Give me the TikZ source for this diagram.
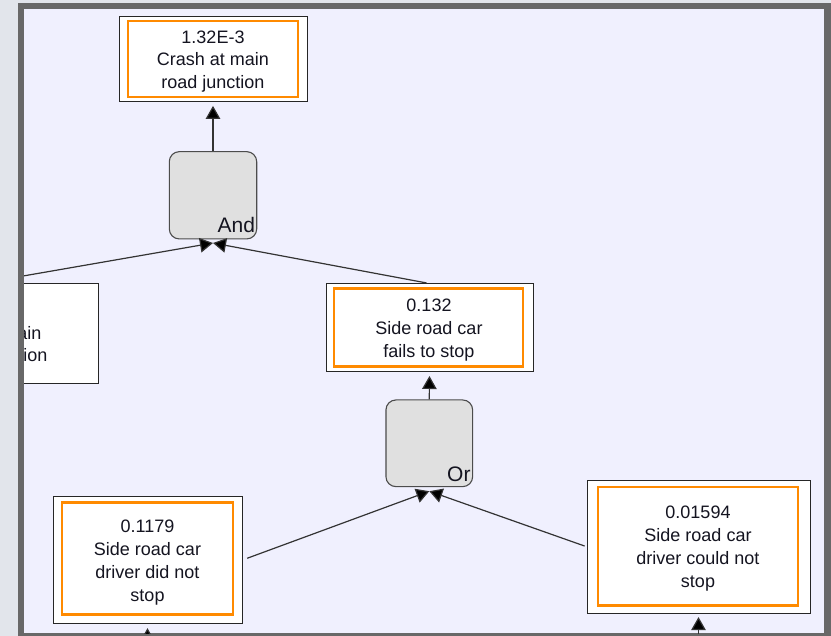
\documentclass[tikz,border=0pt]{standalone}
\usepackage{fontspec}
\setmainfont{Liberation Sans}
\usetikzlibrary{arrows.meta,calc}
\definecolor{lav}{HTML}{F0F0FE}
\definecolor{framegray}{HTML}{686868}
\definecolor{outbg}{HTML}{E2E5EB}
\definecolor{orng}{HTML}{FF8A00}
\definecolor{gatefill}{HTML}{E0E0E0}
\definecolor{txt}{HTML}{141420}
\newcommand\fbxfont{\fontsize{18}{22.9}\selectfont}
\newcommand\fgatefont{\fontsize{21}{24}\selectfont}
\begin{document}
\begin{tikzpicture}[x=1pt,y=-1pt,
  outerbox/.style={draw=black!85, line width=1pt, fill=white, inner sep=0pt, rectangle},
  innerbox/.style={draw=orng, line width=2.6pt, inner sep=0pt, rectangle},
  boxtext/.style={inner sep=0pt, align=center, font=\fbxfont, text=txt},
  gate/.style={draw=black!70, line width=1.1pt, fill=gatefill, rounded corners=10pt, inner sep=0pt},
  gatelabel/.style={anchor=base west, inner sep=0pt, font=\fgatefont, text=txt},
  frag/.style={anchor=base east, inner sep=0pt, font=\fbxfont, text=txt},
  conn/.style={draw=black!80, line width=1.2pt, -{Triangle[length=13pt,width=14.5pt,fill=black]}},
]
\useasboundingbox (0,0) rectangle (831,636);
\fill[outbg] (0,0) rectangle (831,636);
\fill[framegray] (18.3,3.3) rectangle (831,636);
\fill[lav] (24,9.3) rectangle (823.7,633.3);
\begin{scope}
\clip (24,9.3) rectangle (823.7,633.3);
% top event
\node[outerbox, minimum width=188pt, minimum height=85pt] (top) at (213,59.5) {};
\node[innerbox, minimum width=170pt, minimum height=76pt] (topin) at (213,59) {};
\node[boxtext] (toptx) at (213,61.5) {1.32E-3\\Crash at main\\road junction};
% left clipped box
\node[outerbox, minimum width=228pt, minimum height=100pt] (lbox) at (-16,333.3) {};
\node[frag] (lt1) at (41.7,340) {ain};
\node[frag] (lt2) at (47.7,361.7) {ion};
% side road car fails to stop
\node[outerbox, minimum width=207pt, minimum height=88pt] (b132) at (429.5,328) {};
\node[innerbox, minimum width=189pt, minimum height=78pt] (b132in) at (428.5,327.5) {};
\node[boxtext] (b132tx) at (429,330) {0.132\\Side road car\\fails to stop};
% bottom boxes
\node[outerbox, minimum width=189pt, minimum height=126pt] (b1179) at (147.5,560) {};
\node[innerbox, minimum width=171pt, minimum height=112pt] (b1179in) at (147.5,558.5) {};
\node[boxtext] (b1179tx) at (147.5,562.5) {0.1179\\Side road car\\driver did not\\stop};
\node[outerbox, minimum width=223pt, minimum height=133pt] (b01594) at (698.5,546.7) {};
\node[innerbox, minimum width=200pt, minimum height=118.5pt] (b01594in) at (698,546.2) {};
\node[boxtext] (b01594tx) at (698,548.3) {0.01594\\Side road car\\driver could not\\stop};
% gates
\node[gate, minimum width=87.4pt, minimum height=87.3pt] (and) at (213,195.3) {};
\node[gatelabel] (andlab) at (217.5,232.3) {And};
\node[gate, minimum width=86.7pt, minimum height=86.7pt] (or) at (429.3,443.3) {};
\node[gatelabel] (orlab) at (447,481.7) {Or};
% connectors
\coordinate (andin) at ($(and.south)+(0,3.5)$);
\coordinate (orin) at ($(or.south)+(0,4)$);
\draw[conn, shorten >=3.4pt] (and.north) -- (top.south);
\draw[conn, shorten <=2.5pt] (lbox.north) -- (andin);
\draw[conn, shorten <=3pt] (b132.north) -- (andin);
\draw[conn, shorten >=3.5pt] (or.north) -- (b132.south);
\draw[conn, shorten <=5pt] (b1179.east) -- (orin);
\draw[conn, shorten <=2pt] (b01594.west) -- (orin);
\coordinate (in1) at ($(b1179.south)+(0,40)$);
\coordinate (in2) at ($(b01594.south)+(0,40)$);
\draw[conn, shorten >=4.7pt] (in1) -- (b1179.south);
\draw[conn, shorten >=3.4pt] (in2) -- (b01594.south);
\end{scope}
\end{tikzpicture}
\end{document}
